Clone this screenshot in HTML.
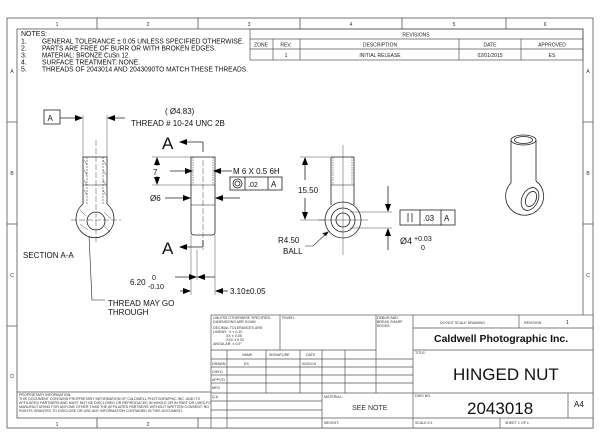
<!DOCTYPE html>
<html><head><meta charset="utf-8"><style>
html,body{margin:0;padding:0;background:#fff;}
svg{display:block;font-family:"Liberation Sans",sans-serif;}
</style></head><body>
<svg width="600" height="442" viewBox="0 0 600 442" xmlns="http://www.w3.org/2000/svg">
<defs>
<marker id="ar" markerWidth="8" markerHeight="6" refX="7" refY="3" orient="auto" markerUnits="userSpaceOnUse"><path d="M0,0 L8,3 L0,6 z" fill="#000"/></marker>
</defs>
<rect width="600" height="442" fill="#fff"/>
<g fill="none" stroke="#555" stroke-width="0.8">
<rect x="7" y="18" width="586" height="410"/>
<rect x="17" y="29" width="566" height="389"/>
<path d="M97,18V29 M198,18V29 M300,18V29 M402,18V29 M506,18V29 M97,418V428 M198,418V428 M7,122H17 M7,224H17 M7,326H17 M583,122H593 M583,224H593 M583,326H593"/>
</g>
<g font-size="5" fill="#333" text-anchor="middle">
<text x="57" y="26">1</text><text x="148" y="26">2</text><text x="249" y="26">3</text><text x="351" y="26">4</text><text x="454" y="26">5</text><text x="545" y="26">6</text>
<text x="57" y="426">1</text><text x="148" y="426">2</text>
<text x="12" y="73">A</text><text x="12" y="175">B</text><text x="12" y="277">C</text><text x="12" y="378">D</text>
<text x="588" y="73">A</text><text x="588" y="175">B</text><text x="588" y="277">C</text>
</g>
<!-- revisions -->
<g fill="none" stroke="#555" stroke-width="0.7">
<rect x="250" y="29" width="333" height="31"/>
<path d="M250,39H583 M250,49H583 M273,39V60 M300,39V60 M459,39V60 M521,39V60"/>
</g>
<g font-size="5" fill="#222" text-anchor="middle">
<text x="416" y="36.5">REVISIONS</text>
<text x="261" y="46.5">ZONE</text><text x="286" y="46.5">REV.</text><text x="380" y="46.5">DESCRIPTION</text><text x="490" y="46.5">DATE</text><text x="552" y="46.5">APPROVED</text>
<text x="286" y="57">1</text><text x="380" y="57">INITIAL RELEASE</text><text x="490" y="57">02/01/2015</text><text x="552" y="57">ES</text>
</g>
<!-- notes -->
<g font-size="7" fill="#111">
<text x="21" y="36">NOTES:</text>
<text x="21" y="43.5">1.</text><text x="42" y="43.5" textLength="202" lengthAdjust="spacingAndGlyphs">GENERAL TOLERANCE ± 0.05 UNLESS SPECIFIED OTHERWISE.</text>
<text x="21" y="50.5">2.</text><text x="42" y="50.5" textLength="174" lengthAdjust="spacingAndGlyphs">PARTS ARE FREE OF BURR OR WITH BROKEN EDGES.</text>
<text x="21" y="57.5">3.</text><text x="42" y="57.5" textLength="88" lengthAdjust="spacingAndGlyphs">MATERIAL: BRONZE CuSn 12.</text>
<text x="21" y="64.5">4.</text><text x="42" y="64.5" textLength="98" lengthAdjust="spacingAndGlyphs">SURFACE TREATMENT: NONE.</text>
<text x="21" y="71.5">5.</text><text x="42" y="71.5" textLength="206" lengthAdjust="spacingAndGlyphs">THREADS OF 2043014 AND 2043090TO MATCH THESE THREADS.</text>
</g>
<!-- section view -->
<g fill="none" stroke="#222" stroke-width="0.8">
<rect x="44" y="110" width="16" height="14"/>
<line x1="60" y1="118" x2="82" y2="118" marker-end="url(#ar)"/>
<line x1="125" y1="118" x2="108" y2="118" marker-end="url(#ar)"/>
<line x1="83" y1="115" x2="83" y2="157" stroke-width="0.4"/>
<line x1="107" y1="115" x2="107" y2="157" stroke-width="0.4"/>
<path d="M83,157H107V204 M83,157V204"/>
<path d="M87,157V204 M103,157V204" stroke-dasharray="2,1" stroke-width="0.5"/>
<line x1="83" y1="185" x2="107" y2="185" stroke-width="0.5"/>
<path d="M83,204 A19,19 0 1,0 107,204"/>
<circle cx="96" cy="221" r="9"/>
<path d="M96,140V242 M71,220H121" stroke-width="0.4" stroke-dasharray="6,2"/>
<path d="M84,160L87,165M84,170L87,175M84,180L87,185M84,190L87,195M103,160L106,165M103,170L106,175M103,180L106,185M103,190L106,195M80,210L86,216M80,224L88,230M104,212L111,219M104,226L110,232" stroke-width="0.4"/>
<path d="M89,236 L92,300 H105" stroke-width="0.6"/>
</g>
<g font-size="8" fill="#111">
<text x="47.5" y="121">A</text>
<text x="165" y="114">( Ø4.83)</text>
<text x="131" y="126">THREAD # 10-24 UNC 2B</text>
<text x="23" y="258">SECTION A-A</text>
<text x="108" y="306">THREAD MAY GO</text>
<text x="108" y="315">THROUGH</text>
</g>
<!-- middle view -->
<g fill="none" stroke="#222" stroke-width="0.8">
<path d="M191,157H215V232Q215,235 212,235H194Q191,235 191,232Z"/>
<path d="M193,157V185 M213,157V185" stroke-dasharray="1.5,1" stroke-width="0.5"/>
<line x1="191" y1="185" x2="215" y2="185" stroke-width="0.5"/>
<line x1="191" y1="205" x2="215" y2="205" stroke-width="0.5"/>
<path d="M203,160V250" stroke-width="0.4" stroke-dasharray="6,2"/>
<line x1="203" y1="142" x2="180" y2="142" marker-end="url(#ar)"/>
<line x1="203" y1="247" x2="180" y2="247" marker-end="url(#ar)"/>
<line x1="203" y1="142" x2="203" y2="152"/>
<line x1="203" y1="240" x2="203" y2="247"/>
<line x1="152" y1="157" x2="191" y2="157" stroke-width="0.4"/>
<line x1="152" y1="185" x2="191" y2="185" stroke-width="0.4"/>
<line x1="157" y1="166" x2="157" y2="158" marker-end="url(#ar)"/>
<line x1="157" y1="176" x2="157" y2="184" marker-end="url(#ar)"/>
<line x1="170" y1="171" x2="192" y2="171" marker-end="url(#ar)"/>
<line x1="232" y1="171" x2="214" y2="171" marker-end="url(#ar)"/>
<line x1="165" y1="198" x2="190" y2="198" marker-end="url(#ar)"/>
<line x1="240" y1="198" x2="216" y2="198" marker-end="url(#ar)"/>
<rect x="230" y="177" width="52" height="13"/>
<path d="M245,177V190 M268,177V190"/>
<circle cx="237.5" cy="183.5" r="4.5"/><circle cx="237.5" cy="183.5" r="2.5"/>
<path d="M191,235V295 M215,235V295 M197,250V280" stroke-width="0.4"/>
<line x1="175" y1="277" x2="196" y2="277" marker-end="url(#ar)"/>
<line x1="215" y1="277" x2="198" y2="277" marker-end="url(#ar)"/>
<line x1="180" y1="291" x2="190" y2="291" marker-end="url(#ar)"/>
<line x1="228" y1="291" x2="216" y2="291" marker-end="url(#ar)"/>
</g>
<g fill="#111">
<text x="162" y="149" font-size="17">A</text>
<text x="162" y="254" font-size="17">A</text>
<text x="153" y="175" font-size="8">7</text>
<text x="233" y="174" font-size="8">M 6 X 0.5 6H</text>
<text x="248" y="187" font-size="7">.02</text>
<text x="271" y="187" font-size="8">A</text>
<text x="150" y="201" font-size="8">Ø6</text>
<text x="130" y="285" font-size="8">6.20</text>
<text x="152" y="280" font-size="7">0</text>
<text x="148" y="289" font-size="7">-0.10</text>
<text x="230" y="294" font-size="8">3.10±0.05</text>
</g>
<!-- right view -->
<g fill="none" stroke="#222" stroke-width="0.8">
<path d="M331,157H354V205 M331,157V205"/>
<path d="M333,157V185 M352,157V185" stroke-dasharray="1.5,1" stroke-width="0.5"/>
<line x1="331" y1="185" x2="354" y2="185" stroke-width="0.5"/>
<circle cx="343" cy="220" r="18" fill="#fff"/>
<circle cx="343" cy="220" r="12"/>
<circle cx="343" cy="220" r="7"/>
<path d="M343,145V255 M318,220H368" stroke-width="0.4"/>
<path d="M300,157H330 M300,220H325" stroke-width="0.4"/>
<line x1="305" y1="180" x2="305" y2="158" marker-end="url(#ar)"/>
<line x1="305" y1="198" x2="305" y2="219" marker-end="url(#ar)"/>
<path d="M350,212H392 M350,228H392" stroke-width="0.4"/>
<line x1="388" y1="186" x2="388" y2="211" marker-end="url(#ar)"/>
<line x1="388" y1="250" x2="388" y2="229" marker-end="url(#ar)"/>
<path d="M305,246H313L328,232" stroke-width="0.6"/>
<path d="M328,232l-5,1.5l3,2z" fill="#000"/>
<rect x="400" y="210" width="55" height="15"/>
<path d="M420,210V225 M441,210V225 M408,213V222 M412,213V222" />
</g>
<g fill="#111">
<text x="298" y="193" font-size="8">15.50</text>
<text x="278" y="243" font-size="8">R4.50</text>
<text x="283" y="254" font-size="8">BALL</text>
<text x="423" y="221" font-size="8">.03</text>
<text x="444" y="221" font-size="8">A</text>
<text x="400" y="244" font-size="9">Ø4</text>
<text x="414" y="241" font-size="7">+0.03</text>
<text x="421" y="250" font-size="7">0</text>
</g>
<!-- iso -->
<g fill="none" stroke="#222" stroke-width="0.8">
<path d="M511,140V183 M536,140V181"/>
<ellipse cx="523.5" cy="140" rx="12.5" ry="5" fill="#fff"/>
<ellipse cx="523.5" cy="140" rx="9" ry="3.5"/>
<path d="M511,183 A19,19 0 1,0 536,181"/>
<ellipse cx="530" cy="199" rx="8" ry="12" transform="rotate(25 530 199)"/>
<ellipse cx="531" cy="199" rx="5" ry="8" transform="rotate(25 531 199)"/>
</g>
<!-- bottom left proprietary -->
<g fill="none" stroke="#555" stroke-width="0.7">
<path d="M17,392H211"/>
</g>
<g font-size="3.6" fill="#333">
<text x="19" y="396">PROPRIETARY INFORMATION:</text>
<text x="19" y="400">THIS DOCUMENT CONTAINS PROPRIETARY INFORMATION OF CALDWELL PHOTOGRAPHIC INC. AND ITS</text>
<text x="19" y="404">AFFILIATED PARTNERS AND MUST NOT BE DISCLOSED OR REPRODUCED IN WHOLE OR IN PART OR USED FOR</text>
<text x="19" y="408">MANUFACTURING FOR ANYONE OTHER THAN THE AFFILIATED PARTNERS WITHOUT WRITTEN CONSENT. NO</text>
<text x="19" y="412">RIGHTS GRANTED TO DISCLOSE OR USE ANY INFORMATION CONTAINED IN THIS DOCUMENT.</text>
</g>
<!-- title block -->
<g fill="none" stroke="#555" stroke-width="0.7">
<rect x="211" y="315" width="382" height="113" fill="#fff"/>
<path d="M280,315V350 M211,350H376 M227,350V428 M266,350V393 M300,350V393 M322,350V428 M345,350V393 M376,315V393 M413,315V428 M519,315V328 M413,328H593 M413,350H593 M413,393H593 M568,393V418 M211,418H593 M500,418V428"/>
<path d="M211,359H413 M211,367H413 M211,375H413 M211,383H413 M211,393H413 M211,401H322 M211,410H322"/>
</g>
<g font-size="3.6" fill="#333">
<text x="213" y="319">UNLESS OTHERWISE SPECIFIED:</text>
<text x="213" y="323">DIMENSIONS ARE IN MM</text>
<text x="213" y="329">DECIMAL TOLERANCES ARE:</text>
<text x="213" y="333">LINEAR:    .X  ± 0.10</text>
<text x="225" y="337">.XX ± 0.05</text>
<text x="225" y="341">.XXX ± 0.02</text>
<text x="213" y="345">ANGULAR:  ± 0.5°</text>
<text x="282" y="319">FINISH:</text>
<text x="377" y="319">DEBUR AND</text>
<text x="377" y="323">BREAK SHARP</text>
<text x="377" y="327">EDGES</text>
<text x="212" y="365">DRAWN</text><text x="212" y="373">CHK'D</text><text x="212" y="381">APPV'D</text><text x="212" y="389">MFG</text><text x="212" y="398">Q.A</text>
<text x="242" y="356">NAME</text><text x="269" y="356">SIGNATURE</text><text x="306" y="356">DATE</text>
<text x="244" y="365">ES</text><text x="302" y="365">02/01/15</text>
<text x="324" y="398">MATERIAL:</text>
<text x="324" y="424">WEIGHT:</text>
<text x="415" y="354">TITLE:</text>
<text x="415" y="397">DWG NO.</text>
<text x="415" y="424">SCALE:2:1</text>
<text x="505" y="424">SHEET 1 OF 1</text>
<text x="440" y="324">DO NOT SCALE DRAWING</text>
<text x="524" y="324">REVISION</text>
</g>
<g fill="#111">
<text x="566" y="324" font-size="5">1</text>
<text x="352" y="410" font-size="7" fill="#333">SEE NOTE</text>
<text x="434" y="342" font-size="10.5" font-weight="bold">Caldwell Photographic Inc.</text>
<text x="453" y="380" font-size="17">HINGED NUT</text>
<text x="467" y="414" font-size="17">2043018</text>
<text x="574" y="407" font-size="8">A4</text>
</g>
</svg>
</body></html>
